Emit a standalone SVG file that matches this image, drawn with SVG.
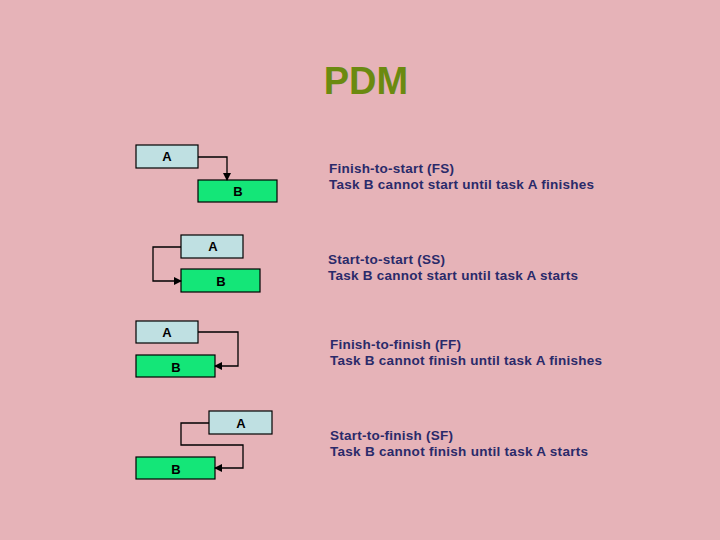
<svg xmlns="http://www.w3.org/2000/svg" width="720" height="540" viewBox="0 0 720 540">
<style>
.a{fill:#bfe0e2;stroke:#000;stroke-width:1.2}
.b{fill:#14e678;stroke:#000;stroke-width:1.2}
.t{font-family:"Liberation Sans",Arial,sans-serif;font-weight:bold;font-size:13px;fill:#000;text-anchor:middle}
.d{font-family:"Liberation Sans",Arial,sans-serif;font-weight:bold;font-size:13.5px;fill:#2a2a6a}
.c{fill:none;stroke:#000;stroke-width:1.3}
</style>
<defs><marker id="m" markerWidth="8" markerHeight="8" refX="7" refY="4" orient="auto" markerUnits="userSpaceOnUse"><path d="M0,0L8,4L0,8z" fill="#000"/></marker></defs>
<rect width="720" height="540" fill="#e6b3b8"/>
<text x="366" y="94" font-family="Liberation Sans,Arial,sans-serif" font-weight="bold" font-size="38" fill="#6b8a10" text-anchor="middle">PDM</text>
<g id="fsA"><rect class="a" x="136" y="145" width="62" height="23"/><text class="t" x="167" y="161">A</text></g>
<g id="fsB"><rect class="b" x="198" y="180" width="79" height="22"/><text class="t" x="238" y="196">B</text></g>
<g id="ssA"><rect class="a" x="181" y="235" width="62" height="23"/><text class="t" x="213" y="251">A</text></g>
<g id="ssB"><rect class="b" x="181" y="269" width="79" height="23"/><text class="t" x="221" y="286">B</text></g>
<g id="ffA"><rect class="a" x="136" y="321" width="62" height="22"/><text class="t" x="167" y="337">A</text></g>
<g id="ffB"><rect class="b" x="136" y="355" width="79" height="22"/><text class="t" x="176" y="372">B</text></g>
<g id="sfA"><rect class="a" x="209" y="411" width="63" height="23"/><text class="t" x="241" y="428">A</text></g>
<g id="sfB"><rect class="b" x="136" y="457" width="79" height="22"/><text class="t" x="176" y="474">B</text></g>
<g id="connectors">
<path class="c" d="M198,157H227V180" marker-end="url(#m)"/>
<path class="c" d="M181,247H153V281H181" marker-end="url(#m)"/>
<path class="c" d="M198,332H238V366H215" marker-end="url(#m)"/>
<path class="c" d="M209,423H181V445H243V468H215" marker-end="url(#m)"/>
</g>
<g id="labels">
<text class="d" x="329" y="173" textLength="125">Finish-to-start (FS)</text>
<text class="d" x="329" y="189" textLength="265">Task B cannot start until task A finishes</text>
<text class="d" x="328" y="264" textLength="117">Start-to-start (SS)</text>
<text class="d" x="328" y="280" textLength="250">Task B cannot start until task A starts</text>
<text class="d" x="330" y="349" textLength="131">Finish-to-finish (FF)</text>
<text class="d" x="330" y="365" textLength="272">Task B cannot finish until task A finishes</text>
<text class="d" x="330" y="440" textLength="123">Start-to-finish (SF)</text>
<text class="d" x="330" y="456" textLength="258">Task B cannot finish until task A starts</text>
</g>
</svg>
